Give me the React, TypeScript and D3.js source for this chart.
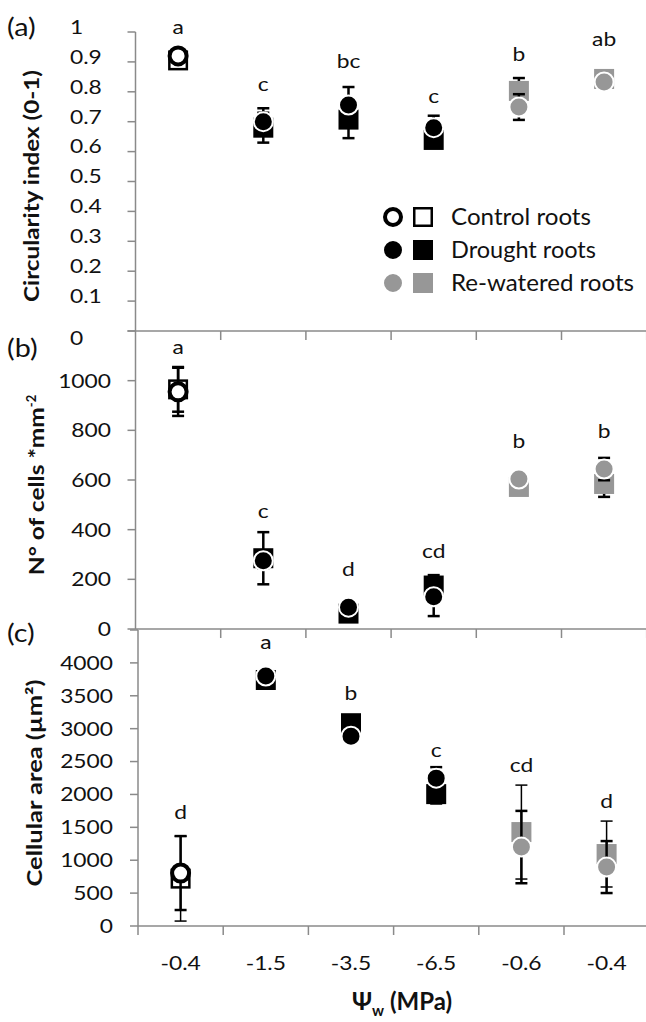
import React from "react";
import * as d3 from "d3";

const categories = ["-0.4", "-1.5", "-3.5", "-6.5", "-0.6", "-0.4"];
const treatments = ["control", "drought", "drought", "drought", "rewatered", "rewatered"];

// Panel (a) circularity index
const circA = [0.92, 0.7, 0.756, 0.68, 0.749, 0.833];
const circAErr = [0.01, 0.045, 0.06, 0.04, 0.043, 0.01];
const sqA = [0.905, 0.68, 0.707, 0.639, 0.803, 0.843];
const sqAErr = [0.01, 0.05, 0.062, 0.02, 0.043, 0.01];
const lettersA = ["a", "c", "bc", "c", "b", "ab"];
const letterPosA = [1.013, 0.823, 0.9, 0.783, 0.923, 0.973];
const ticksA = [0, 0.1, 0.2, 0.3, 0.4, 0.5, 0.6, 0.7, 0.8, 0.9, 1];
const tickLabelsA = ["0", "0.1", "0.2", "0.3", "0.4", "0.5", "0.6", "0.7", "0.8", "0.9", "1"];

// Panel (b) number of cells
const circB = [955, 275, 88, 130, 604, 644];
const circBErr = [97, 30, 10, 78, 10, 45];
const sqB = [965, 285, 62, 175, 572, 584];
const sqBErr = [90, 105, 10, 42, 10, 52];
const lettersB = ["a", "c", "d", "cd", "b", "b"];
const letterPosB = [1132, 471, 238, 310, 753, 793];
const ticksB = [0, 200, 400, 600, 800, 1000, 1200];
const tickLabelsB = ["0", "200", "400", "600", "800", "1000", ""];

// Panel (c) cellular area
const circC = [805, 3800, 2886, 2248, 1200, 896];
const circCErr = [562, 80, 50, 167, 550, 395];
const sqC = [720, 3740, 3083, 2005, 1428, 1094];
const sqCErr = [645, 60, 120, 150, 714, 501];
const lettersC = ["d", "a", "b", "c", "cd", "d"];
const letterPosC = [1718, 4302, 3527, 2660, 2432, 1885];
const ticksC = [0, 500, 1000, 1500, 2000, 2500, 3000, 3500, 4000, 4500];
const tickLabelsC = ["0", "500", "1000", "1500", "2000", "2500", "3000", "3500", "4000", ""];

const legendLabels = ["Control roots", "Drought roots", "Re-watered roots"];
const legendTreatments = ["control", "drought", "rewatered"];
const legendWidths = [140, 145, 183];

const W = 646;
const H = 1022;
const FONT = "Lato, 'Open Sans', sans-serif";
const INK = "#111";
const GRAY = "#979797";
const AXIS = "#8a8a8a";

function colorOf(t: string) {
  return t === "rewatered" ? GRAY : "#000";
}

function Txt(props: any) {
  const { x, y, anchor = "start", size = 19, sx = 1.2, weight = "normal", dy = "0.36em", children } = props;
  return (
    <text
      transform={`translate(${x},${y}) scale(${sx},1)`}
      textAnchor={anchor}
      fontSize={size}
      fontWeight={weight}
      fontFamily={FONT}
      fill={INK}
      dy={dy}
    >
      {children}
    </text>
  );
}

function Circle({ cx, cy, t, r = 8.5 }: any) {
  if (t === "control") {
    return <circle cx={cx} cy={cy} r={r} fill="#fff" stroke="#000" strokeWidth={4} />;
  }
  return <circle cx={cx} cy={cy} r={r + 1} fill={colorOf(t)} stroke="#fff" strokeWidth={2} />;
}

function Square({ cx, cy, t, s = 20 }: any) {
  if (t === "control") {
    const a = s - 2.5;
    return <rect x={cx - a / 2} y={cy - a / 2} width={a} height={a} fill="#fff" stroke="#000" strokeWidth={2.5} />;
  }
  return <rect x={cx - s / 2} y={cy - s / 2} width={s} height={s} fill={colorOf(t)} />;
}

function ErrBar({ cx, y0, y1, w }: any) {
  const cap = 6;
  return (
    <g stroke="#000" strokeWidth={w}>
      <line x1={cx} x2={cx} y1={y0} y2={y1} />
      <line x1={cx - cap} x2={cx + cap} y1={y0} y2={y0} />
      <line x1={cx - cap} x2={cx + cap} y1={y1} y2={y1} />
    </g>
  );
}

function Panel(props: any) {
  const {
    x0, yBottom, yTop, domainMax, ticks, tickLabels, labelMode, labelX,
    circ, circErr, sq, sqErr, letters, letterPos, sqErrW, circErrW, originTick,
  } = props;
  const x = d3.scaleBand<number>().domain(d3.range(categories.length)).range([x0, x0 + 85.2 * 6]);
  const y = d3.scaleLinear().domain([0, domainMax]).range([yBottom, yTop]);
  const cx = (i: number) => (x(i) as number) + x.bandwidth() / 2;
  const boundaries = d3.range(originTick ? 0 : 1, categories.length + 1).map((k) => x0 + x.bandwidth() * k);
  return (
    <g>
      <line x1={x0} x2={x0} y1={y(domainMax)} y2={yBottom} stroke={AXIS} strokeWidth={1.5} />
      <line x1={x0} x2={W} y1={yBottom} y2={yBottom} stroke={AXIS} strokeWidth={1.5} />
      {ticks.map((t: number, i: number) => (
        <line key={"yt" + i} x1={x0 - 8} x2={x0} y1={y(t)} y2={y(t)} stroke={AXIS} strokeWidth={1.5} />
      ))}
      {boundaries.map((bx: number, i: number) => (
        <line key={"xt" + i} x1={bx} x2={bx} y1={yBottom} y2={yBottom + 9} stroke={AXIS} strokeWidth={1.5} />
      ))}
      {ticks.map((t: number, i: number) => {
        const lab = tickLabels[i];
        if (!lab) return null;
        if (labelMode === "left") {
          const yy = t === 0 ? y(t) + 7 : y(t) - 5;
          return (
            <Txt key={"yl" + i} x={labelX} y={yy} anchor="start">
              {lab}
            </Txt>
          );
        }
        return (
          <Txt key={"yl" + i} x={labelX} y={y(t)} anchor="end">
            {lab}
          </Txt>
        );
      })}
      {sq.map((v: number, i: number) => (
        <ErrBar key={"se" + i} cx={cx(i)} y0={y(v + sqErr[i])} y1={y(v - sqErr[i])} w={sqErrW} />
      ))}
      {sq.map((v: number, i: number) => (
        <Square key={"sq" + i} cx={cx(i)} cy={y(v)} t={treatments[i]} />
      ))}
      {circ.map((v: number, i: number) => (
        <ErrBar key={"ce" + i} cx={cx(i)} y0={y(v + circErr[i])} y1={y(v - circErr[i])} w={circErrW} />
      ))}
      {circ.map((v: number, i: number) => (
        <Circle key={"ci" + i} cx={cx(i)} cy={y(v)} t={treatments[i]} />
      ))}
      {letters.map((l: string, i: number) => (
        <Txt key={"lt" + i} x={cx(i)} y={y(letterPos[i])} anchor="middle" size={19} sx={1.2} dy="0.3em">
          {l}
        </Txt>
      ))}
    </g>
  );
}

export default function App() {
  const xC = d3.scaleBand<number>().domain(d3.range(categories.length)).range([138, 138 + 85.2 * 6]);
  return (
    <svg width={W} height={H} viewBox={`0 0 ${W} ${H}`} style={{ position: "absolute", left: 0, top: 0, background: "#fff" }}>
      <rect x={0} y={0} width={W} height={H} fill="#fff" />
      <Panel
        x0={135.5} yBottom={331} yTop={32} domainMax={1} ticks={ticksA} tickLabels={tickLabelsA}
        labelMode="left" labelX={70} circ={circA} circErr={circAErr} sq={sqA} sqErr={sqAErr}
        letters={lettersA} letterPos={letterPosA} sqErrW={2.5} circErrW={2.5} originTick={false}
      />
      <Panel
        x0={135.5} yBottom={629} yTop={331} domainMax={1200} ticks={ticksB} tickLabels={tickLabelsB}
        labelMode="right" labelX={111} circ={circB} circErr={circBErr} sq={sqB} sqErr={sqBErr}
        letters={lettersB} letterPos={letterPosB} sqErrW={2.5} circErrW={2.5} originTick={false}
      />
      <Panel
        x0={138} yBottom={926} yTop={630} domainMax={4500} ticks={ticksC} tickLabels={tickLabelsC}
        labelMode="right" labelX={113} circ={circC} circErr={circCErr} sq={sqC} sqErr={sqCErr}
        letters={lettersC} letterPos={letterPosC} sqErrW={1.5} circErrW={2.5} originTick={true}
      />
      {categories.map((c, i) => (
        <Txt key={"xc" + i} x={(xC(i) as number) + xC.bandwidth() / 2} y={963} anchor="middle">
          {c}
        </Txt>
      ))}
      <text x={352} y={1010} fontFamily={FONT} fontWeight="bold" fontSize={24} fill={INK}>
        Ψ<tspan fontSize={15} dy={6}>w</tspan>
        <tspan dy={-6}> (MPa)</tspan>
      </text>
      <text
        transform="translate(31,186) rotate(-90)"
        textAnchor="middle" fontFamily={FONT} fontWeight="bold" fontSize={21} fill={INK} dy="0.36em"
        textLength={232} lengthAdjust="spacingAndGlyphs"
      >
        Circularity index (0-1)
      </text>
      <text
        transform="translate(36,485) rotate(-90)"
        textAnchor="middle" fontFamily={FONT} fontWeight="bold" fontSize={21} fill={INK} dy="0.36em"
      >
        <tspan textLength={168} lengthAdjust="spacingAndGlyphs">N° of cells *mm</tspan>
        <tspan fontSize={13} dy={-8}>-2</tspan>
      </text>
      <text
        transform="translate(34,783) rotate(-90)"
        textAnchor="middle" fontFamily={FONT} fontWeight="bold" fontSize={21} fill={INK} dy="0.36em"
        textLength={207} lengthAdjust="spacingAndGlyphs"
      >
        Cellular area (µm²)
      </text>
      <Txt x={7} y={27} size={25} sx={1.15}>(a)</Txt>
      <Txt x={7} y={348} size={25} sx={1.15}>(b)</Txt>
      <Txt x={7} y={633} size={25} sx={1.15}>(c)</Txt>
      {legendLabels.map((l, i) => {
        const yy = 217 + i * 33;
        const t = legendTreatments[i];
        return (
          <g key={"lg" + i}>
            <Circle cx={393} cy={yy} t={t} r={t === "control" ? 8 : 9} />
            <Square cx={423} cy={yy} t={t} s={20} />
            <text
              x={451} y={yy} dy="0.36em" fontFamily={FONT} fontSize={23} fill={INK}
              textLength={legendWidths[i]} lengthAdjust="spacingAndGlyphs"
            >
              {l}
            </text>
          </g>
        );
      })}
    </svg>
  );
}
